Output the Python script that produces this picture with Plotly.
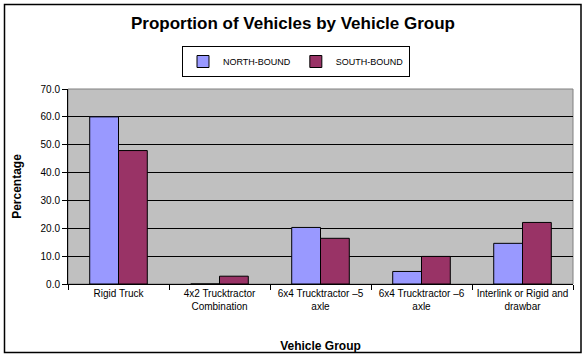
import plotly.graph_objects as go

categories = ["Rigid Truck", "4x2 Trucktractor<br>Combination", "6x4 Trucktractor –5<br>axle",
              "6x4 Trucktractor –6<br>axle", "Interlink or Rigid and<br>drawbar"]
north_bound = [60.0, 0.0, 20.3, 4.5, 14.6]
south_bound = [47.9, 2.8, 16.4, 9.9, 22.1]
y_ticks = [0, 10, 20, 30, 40, 50, 60, 70]

W, H = 587, 361
L, R, T, B = 68, 573, 89, 284
pw, ph = R - L, B - T

def px(x):
    return (x - L) / pw

def py(y):
    return (B - y) / ph

font = "Liberation Sans, Arial, sans-serif"

fig = go.Figure()
fig.add_trace(go.Bar(x=categories, y=north_bound, name="NORTH-BOUND",
                     marker=dict(color="#9999FF", line=dict(color="black", width=1))))
fig.add_trace(go.Bar(x=categories, y=south_bound, name="SOUTH-BOUND",
                     marker=dict(color="#993366", line=dict(color="black", width=1))))

fig.update_layout(
    width=W, height=H,
    margin=dict(l=L, r=W - R, t=T, b=H - B, pad=0, autoexpand=False),
    paper_bgcolor="white", plot_bgcolor="#C0C0C0",
    font=dict(family=font, size=10, color="black"),
    barmode="group", bargap=0.43, bargroupgap=0,
    showlegend=True,
    title=dict(text="<b>Proportion of Vehicles by Vehicle Group</b>", x=293 / W, xref="container",
               xanchor="center", y=1 - 23 / H, yref="container", yanchor="middle",
               font=dict(size=17, family=font, color="black")),
    legend=dict(orientation="h", x=px(296), xanchor="center", y=py(46), yanchor="top",
                bordercolor="black", borderwidth=1, bgcolor="white",
                font=dict(size=9, family=font), itemwidth=30, traceorder="normal",
                tracegroupgap=0),
    xaxis=dict(type="category", tickson="boundaries", ticks="outside", ticklen=5,
               tickcolor="black", showline=True, linecolor="black", linewidth=1,
               showgrid=False, tickfont=dict(size=10, family=font), automargin=False,
               title=dict(text="<b>Vehicle Group</b>", font=dict(size=12, family=font), standoff=30)),
    yaxis=dict(range=[0, 70], tickvals=y_ticks, tickformat=".1f", ticks="outside", ticklen=5,
               tickcolor="black", showline=True, linecolor="black", linewidth=1,
               showgrid=True, gridcolor="black", gridwidth=1, zeroline=False,
               tickfont=dict(size=10, family=font), automargin=False,
               title=dict(text="<b>Percentage</b>", font=dict(size=12, family=font), standoff=16)),
)

# plot-area border (grey) and chart border (black)
fig.add_shape(type="rect", xref="paper", yref="paper", x0=0, x1=1, y0=0, y1=1,
              line=dict(color="#808080", width=1), layer="below")
fig.add_shape(type="rect", xref="paper", yref="paper",
              x0=px(4.5), x1=px(581), y0=py(352.5), y1=py(4.5),
              line=dict(color="black", width=1.5))

fig.write_html("out.html", config={"displayModeBar": False},
               post_script="document.body.style.margin='0';document.body.style.overflow='hidden';")
